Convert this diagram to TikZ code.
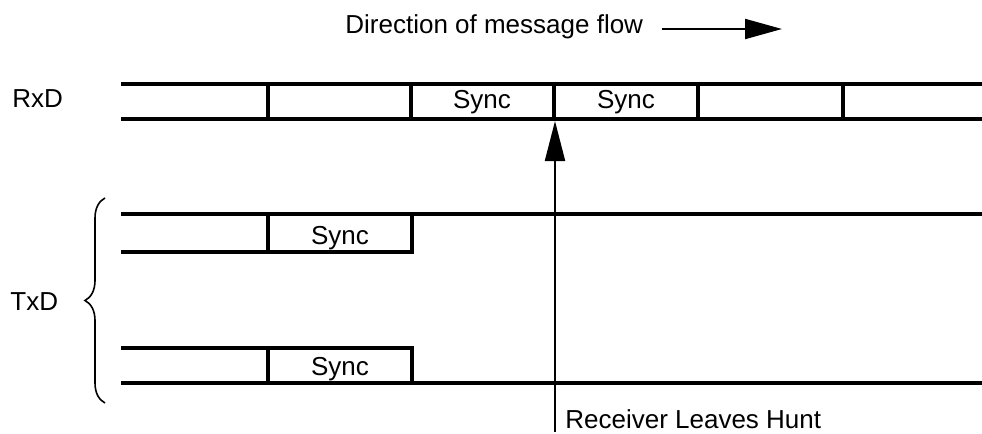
\documentclass[tikz,border=0pt]{standalone}
\usepackage{fontspec}
\setmainfont{Liberation Sans}
\usetikzlibrary{arrows.meta,positioning,decorations.pathreplacing}

\begin{document}
\begin{tikzpicture}[x=0.5pt,y=-0.5pt,
		lbl/.style={inner sep=0pt,anchor=base,font=\fontsize{13}{15}\selectfont},
		wire/.style={line width=2pt},
		marker/.style={line width=1pt,-{Triangle[width=10pt,length=20pt]}}]
	\useasboundingbox (0,0) rectangle (982,434);

	% signal names
	\draw (12,107) node[lbl,anchor=base west] (rxd) {RxD};
	\draw (10,310) node[lbl,anchor=base west] (txd) {TxD};
	\draw[line width=0.8pt,decorate,decoration={brace,amplitude=10pt}] (105,403) -- (105,198);

	% RxD frames
	\draw[wire] (121,84) -- (982,84);
	\draw[wire] (121,119) -- (982,119);
	\foreach \x in {268,411,554,698,843}
		\draw[wire] (\x,84) -- (\x,119);
	\draw (482,108) node[lbl] (rxsynca) {Sync};
	\draw (626,108) node[lbl] (rxsyncb) {Sync};

	% TxD, first case
	\draw[wire] (121,214) -- (982,214);
	\draw[wire] (121,252) -- (412,252) -- (412,214);
	\draw[wire] (268,214) -- (268,252);
	\draw (340,244) node[lbl] (txsynca) {Sync};

	% TxD, second case
	\draw[wire] (121,348) -- (412,348) -- (412,383);
	\draw[wire] (121,383) -- (982,383);
	\draw[wire] (268,348) -- (268,383);
	\draw (340,375) node[lbl] (txsyncb) {Sync};

	% hunt
	\coordinate (huntfoot) at (555,432);
	\coordinate (rxdgap) at (555,121);
	\draw[marker] (huntfoot) -- (rxdgap);
	\draw (565,428) node[lbl,anchor=base west] (hunt) {Receiver Leaves Hunt};

	% flow direction
	\draw (345,33) node[lbl,anchor=base west] (flow) {Direction of message flow};
	\coordinate (flowtail) at (662,29);
	\coordinate (flowhead) at (782,29);
	\draw[line width=1pt,-{Triangle[width=10pt,length=18.5pt]}] (flowtail) -- (flowhead);
\end{tikzpicture}
\end{document}
